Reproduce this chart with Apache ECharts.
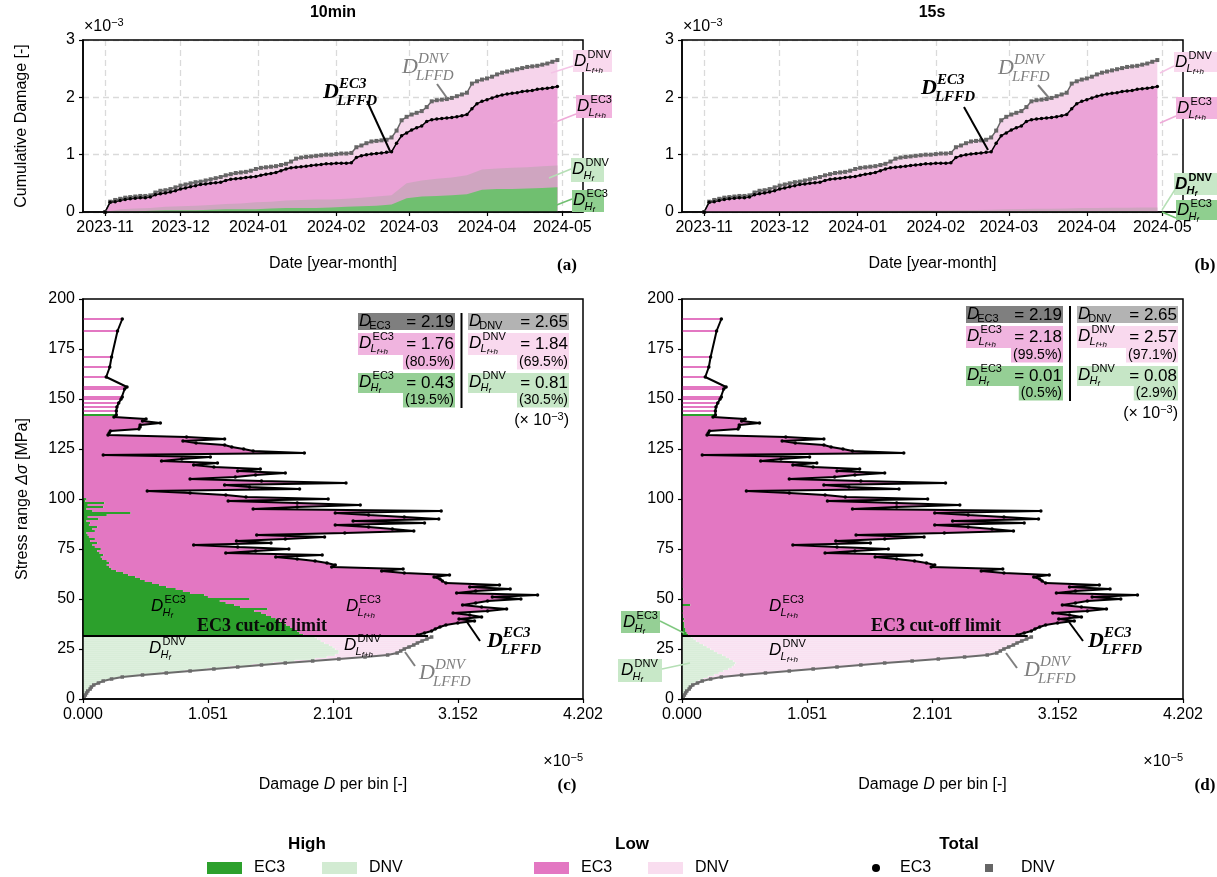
<!DOCTYPE html>
<html>
<head>
<meta charset="utf-8">
<title>Cumulative damage EC3 / DNV</title>
<script src="https://cdn.jsdelivr.net/npm/echarts@6.0.0/dist/echarts.min.js"></script>
<style>
    html, body { margin: 0; background: #fff; }
    #chart-container { width: 1217px; height: 877px; }
</style>
</head>
<body>
<div id="chart-container"></div>
<script>
// ---- top row: cumulative damage (x1e-3), days counted from 2023-11-01 ----
const monthTickDays = [0, 30, 61, 92, 121, 152, 182];
const monthLabels = ['2023-11', '2023-12', '2024-01', '2024-02', '2024-03', '2024-04', '2024-05'];

// totals, one value every 2 days
const cumStep = 2;
const cumEC3 = [
    0.00, 0.17, 0.18, 0.20, 0.22, 0.23, 0.24, 0.25, 0.25, 0.26,
    0.30, 0.32, 0.33, 0.35, 0.37, 0.40, 0.42, 0.44, 0.46, 0.48,
    0.49, 0.50, 0.51, 0.52, 0.55, 0.57, 0.58, 0.59, 0.60, 0.61,
    0.62, 0.64, 0.66, 0.67, 0.69, 0.72, 0.75, 0.77, 0.78, 0.79,
    0.80, 0.81, 0.82, 0.83, 0.84, 0.84, 0.85, 0.85, 0.85, 0.86,
    0.95, 0.98, 1.00, 1.01, 1.02, 1.03, 1.04, 1.05, 1.20, 1.33,
    1.38, 1.43, 1.47, 1.50, 1.58, 1.61, 1.62, 1.63, 1.64, 1.65,
    1.66, 1.68, 1.70, 1.80, 1.89, 1.93, 1.96, 1.99, 2.02, 2.04,
    2.06, 2.07, 2.08, 2.10, 2.11, 2.12, 2.14, 2.15, 2.16, 2.17,
    2.19
];
const cumDNV = [
    0.00, 0.18, 0.21, 0.23, 0.25, 0.26, 0.27, 0.28, 0.28, 0.29,
    0.34, 0.37, 0.38, 0.40, 0.43, 0.46, 0.48, 0.50, 0.52, 0.53,
    0.55, 0.57, 0.59, 0.61, 0.64, 0.66, 0.68, 0.69, 0.70, 0.72,
    0.75, 0.77, 0.78, 0.79, 0.80, 0.82, 0.84, 0.88, 0.93, 0.95,
    0.96, 0.97, 0.98, 0.99, 1.00, 1.00, 1.01, 1.02, 1.02, 1.03,
    1.13, 1.16, 1.20, 1.23, 1.24, 1.25, 1.26, 1.30, 1.42, 1.60,
    1.66, 1.70, 1.73, 1.76, 1.83, 1.93, 1.95, 1.96, 1.97, 1.99,
    2.02, 2.05, 2.08, 2.24, 2.28, 2.31, 2.33, 2.36, 2.40, 2.43,
    2.45, 2.47, 2.49, 2.51, 2.53, 2.54, 2.55, 2.57, 2.59, 2.62,
    2.65
];

// high-frequency parts, one value every 6 days
const highStep = 6;
const cumHighEC3_10min = [0, 0.01, 0.01, 0.02, 0.03, 0.03, 0.03, 0.04, 0.05, 0.05, 0.05, 0.06, 0.07, 0.07, 0.07, 0.08,
    0.09, 0.10, 0.11, 0.13, 0.24, 0.27, 0.28, 0.29, 0.31, 0.39, 0.40, 0.40, 0.41, 0.42, 0.43];
const cumHighDNV_10min = [0, 0.05, 0.06, 0.07, 0.09, 0.10, 0.11, 0.12, 0.14, 0.15, 0.17, 0.18, 0.20, 0.21, 0.22, 0.22,
    0.23, 0.25, 0.27, 0.29, 0.50, 0.55, 0.58, 0.60, 0.64, 0.74, 0.76, 0.77, 0.78, 0.80, 0.81];
const cumHighEC3_15s = [0, 0, 0.001, 0.001, 0.001, 0.002, 0.002, 0.002, 0.003, 0.003, 0.003, 0.003, 0.004, 0.004, 0.004, 0.005,
    0.005, 0.005, 0.006, 0.006, 0.007, 0.008, 0.008, 0.008, 0.009, 0.009, 0.009, 0.01, 0.01, 0.01, 0.01];
const cumHighDNV_15s = [0, 0.004, 0.006, 0.008, 0.01, 0.012, 0.014, 0.016, 0.018, 0.02, 0.022, 0.024, 0.026, 0.028, 0.03, 0.031,
    0.032, 0.034, 0.036, 0.038, 0.05, 0.054, 0.056, 0.058, 0.06, 0.068, 0.07, 0.072, 0.075, 0.078, 0.08];

// ---- bottom row: damage per 1 MPa stress bin (x1e-5) ----
const xTickValues = [0, 1.0505, 2.101, 3.1515, 4.202];
const xTickLabels = ['0.000', '1.051', '2.101', '3.152', '4.202'];
const cutoffStress = 31.5;
const cutoffEnd = 2.9;

// DNV bins, stress 1..31 MPa
const dnvFirstBin = 1;
const dnvTotal = [0.01, 0.02, 0.03, 0.04, 0.06, 0.07, 0.09, 0.13, 0.17, 0.24, 0.33, 0.50, 0.70, 0.90, 1.10, 1.30,
    1.50, 1.70, 1.93, 2.15, 2.37, 2.56, 2.64, 2.67, 2.70, 2.74, 2.78, 2.81, 2.85, 2.89, 2.93];
const dnvHigh10min = [0.01, 0.02, 0.03, 0.04, 0.06, 0.07, 0.09, 0.12, 0.16, 0.23, 0.31, 0.47, 0.66, 0.85, 1.04, 1.23,
    1.42, 1.60, 1.78, 1.95, 2.05, 2.12, 2.15, 2.15, 2.12, 2.10, 2.07, 2.03, 2.00, 1.97, 1.95];
const dnvHigh15s = [0.01, 0.02, 0.03, 0.04, 0.05, 0.07, 0.08, 0.11, 0.14, 0.18, 0.22, 0.27, 0.31, 0.35, 0.39, 0.42,
    0.44, 0.45, 0.43, 0.40, 0.37, 0.34, 0.30, 0.27, 0.24, 0.21, 0.18, 0.15, 0.12, 0.10, 0.08];

// EC3 bins, stress 32..140 MPa
const ec3FirstBin = 32;
const ec3Total = [
    2.81, 2.87, 2.93, 2.96, 3.00, 3.05, 3.15, 3.29, 3.16, 3.35,
    3.25, 3.11, 3.40, 3.56, 3.35, 3.19, 3.30, 3.40, 3.68, 3.44,
    3.82, 3.14, 3.30, 3.59, 3.25, 3.50, 3.05, 3.02, 3.00, 2.95,
    3.08, 2.70, 2.51, 2.69, 2.09, 2.12, 2.05, 1.95, 1.80, 1.62,
    2.01, 1.20, 1.45, 1.73, 1.30, 0.93, 1.58, 1.29, 1.70, 2.03,
    1.46, 2.20, 2.78, 2.60, 2.40, 2.12, 2.87, 2.27, 2.99, 2.70,
    2.40, 2.12, 3.01, 1.43, 1.80, 2.33, 1.80, 1.22, 2.06, 1.37,
    1.20, 0.90, 0.54, 1.82, 1.40, 1.19, 2.21, 1.50, 0.90, 1.28,
    1.45, 1.70, 1.30, 1.49, 1.10, 0.93, 1.13, 0.66, 0.83, 1.07,
    0.17, 1.86, 1.43, 1.35, 1.25, 1.19, 0.95, 0.84, 1.19, 0.87,
    0.21, 0.22, 0.23, 0.47, 0.48, 0.48, 0.65, 0.50, 0.53
];
const ec3High10min = [
    1.85, 1.82, 1.80, 1.77, 1.74, 1.71, 1.68, 1.65, 1.62, 1.58,
    1.54, 1.50, 1.44, 1.55, 1.32, 1.27, 1.20, 1.15, 1.40, 1.05,
    1.02, 0.90, 0.84, 0.78, 0.70, 0.64, 0.58, 0.52, 0.48, 0.44,
    0.38, 0.34, 0.28, 0.24, 0.22, 0.20, 0.22, 0.20, 0.16, 0.15,
    0.17, 0.14, 0.12, 0.15, 0.10, 0.08, 0.12, 0.06, 0.10, 0.05,
    0.04, 0.03, 0.10, 0.08, 0.12, 0.05, 0.06, 0.03, 0.13, 0.04,
    0.20, 0.40, 0.08, 0.03, 0.17, 0.04, 0.18, 0.02, 0.03, 0,
    0, 0, 0, 0, 0, 0, 0, 0, 0, 0,
    0, 0, 0, 0, 0, 0, 0, 0, 0, 0,
    0, 0, 0, 0, 0, 0, 0, 0, 0, 0,
    0, 0, 0, 0, 0, 0, 0, 0, 0
];
const ec3High15s = [
    0.05, 0.04, 0.03, 0.03, 0.02, 0.02, 0.02, 0.01, 0.02, 0.01,
    0.01, 0, 0.01, 0, 0, 0.07, 0, 0, 0.01, 0,
    0, 0, 0, 0.01, 0, 0, 0, 0, 0.01, 0,
    0, 0, 0, 0, 0, 0, 0, 0, 0, 0,
    0, 0, 0, 0, 0, 0, 0, 0, 0, 0,
    0, 0, 0, 0, 0, 0, 0, 0, 0, 0,
    0, 0, 0, 0, 0, 0, 0, 0, 0, 0,
    0, 0, 0, 0, 0, 0, 0, 0, 0, 0,
    0, 0, 0, 0, 0, 0, 0, 0, 0, 0,
    0, 0, 0, 0, 0, 0, 0, 0, 0, 0,
    0, 0, 0, 0, 0, 0, 0, 0, 0
];
// sparse bins above 140 MPa (same in both panels)
const sparseStress = [141, 142, 144, 146, 148, 150, 151, 155, 156, 161, 166, 171, 184, 190];
const sparseTotal = [0.26, 0.28, 0.28, 0.285, 0.30, 0.32, 0.33, 0.35, 0.37, 0.195, 0.225, 0.24, 0.29, 0.33];
const sparseHigh = [0, 0.28, 0, 0, 0, 0, 0, 0, 0, 0, 0, 0, 0, 0];

// summary table (x1e-3)
const table10min = ['2.19', '2.65', '1.76', '(80.5%)', '1.84', '(69.5%)', '0.43', '(19.5%)', '0.81', '(30.5%)'];
const table15s = ['2.19', '2.65', '2.18', '(99.5%)', '2.57', '(97.1%)', '0.01', '(0.5%)', '0.08', '(2.9%)'];

// ---- colours ----
const GREEN = '#2ca02c', LGREEN = '#d2ebd2', PINK = '#e377c2', LPINK = '#f9ddef';
const SANS = '"Liberation Sans", Arial, sans-serif';
const SERIF = '"Liberation Serif", "DejaVu Serif", serif';

// ---- helpers ----
const timeData = (vals, step) => vals.map((v, i) => [i * step, v]);

function binData(first, lo, hi) {
    return hi.map((h, i) => [first + i, lo ? lo[i] : 0, h]);
}

function barRender(fill, stroke) {
    return function (params, api) {
        const s = api.value(0), a = api.value(1), b = api.value(2);
        if (!(b > a)) return;
        const p0 = api.coord([a, s + 0.5]);
        const p1 = api.coord([b, s - 0.5]);
        return {
            type: 'rect',
            shape: { x: p0[0], y: p0[1], width: p1[0] - p0[0], height: p1[1] - p0[1] },
            style: { fill: fill, stroke: stroke || null, lineWidth: stroke ? 0.5 : 0 }
        };
    };
}

function barSeries(idx, data, fill, stroke) {
    return {
        type: 'custom', xAxisIndex: idx, yAxisIndex: idx, silent: true,
        renderItem: barRender(fill, stroke), encode: { x: [1, 2], y: 0 }, data: data, z: 2
    };
}

function txt(x, y, text, font, fill, align, valign) {
    return {
        type: 'text', x: x, y: y, silent: true, z: 100,
        style: { text: text, font: font, fill: fill || '#000', align: align || 'left', verticalAlign: valign || 'middle' }
    };
}

function richTxt(x, y, text, rich, align, valign, extra) {
    return {
        type: 'text', x: x, y: y, silent: true, z: 100,
        style: Object.assign({ text: text, rich: rich, align: align || 'left', verticalAlign: valign || 'middle' }, extra || {})
    };
}

function rect(x, y, w, h, fill) {
    return { type: 'rect', silent: true, z: 99, shape: { x: x, y: y, width: w, height: h }, style: { fill: fill } };
}

function seg(x1, y1, x2, y2, color, w) {
    return { type: 'line', silent: true, z: 100, shape: { x1: x1, y1: y1, x2: x2, y2: y2 }, style: { stroke: color, lineWidth: w || 1.5 } };
}

// D with superscript and (optionally two-level) subscript
function dMath(x, y, sup, sub, subTail, o) {
    o = o || {};
    const fs = o.fs || 17, fam = o.fam || SANS, col = o.color || '#000';
    const wt = o.bold ? 'bold' : 'normal';
    const small = Math.round(fs * (o.ratio || 0.66));
    const els = [txt(x, y, 'D', 'italic ' + wt + ' ' + fs + 'px ' + fam, col)];
    const dx = fs * (o.dx || 0.74);
    if (sup) {
        els.push(txt(x + dx + 1, y - fs * 0.36, sup, (o.supItalic ? 'italic ' : '') + wt + ' ' + small + 'px ' + fam, col));
    }
    if (sub) {
        const rich = {
            a: { fontSize: small, fontStyle: o.subUpright ? 'normal' : 'italic', fontWeight: wt, fontFamily: fam, fill: col, color: col },
            b: { fontSize: Math.round(fs * 0.46), fontStyle: 'italic', fontWeight: wt, fontFamily: fam, fill: col, color: col, verticalAlign: 'bottom', padding: [6, 0, 0, 0] }
        };
        els.push(richTxt(x + dx - 1, y + fs * (o.subDy || 0.42), '{a|' + sub + '}' + (subTail ? '{b|' + subTail + '}' : ''), rich));
    }
    return els;
}

function powerText(x, y, base, exp, align) {
    return richTxt(x, y, '{a|' + base + '}{b|' + exp + '}', {
        a: { fontSize: 16, fontFamily: SANS, fill: '#000', color: '#000' },
        b: { fontSize: 11, fontFamily: SANS, fill: '#000', color: '#000', verticalAlign: 'top', padding: [0, 0, 8, 0] }
    }, align || 'left');
}

function summaryTable(L0, L1, R0, R1, top, v) {
    const g = [];
    const val = (x, y, t) => txt(x, y, t, '17px ' + SANS, '#000', 'right');
    const pct = (x, y, t, bg) => ({
        type: 'text', x: x, y: y, silent: true, z: 100,
        style: { text: t, font: '14px ' + SANS, fill: '#000', align: 'right', verticalAlign: 'middle', backgroundColor: bg, padding: [1, 1, 0, 2] }
    });
    // row 1: totals
    g.push(rect(L0, top, L1 - L0, 17, '#7f7f7f'), rect(R0, top, R1 - R0, 17, '#b3b3b3'));
    g.push(...dMath(L0 + 1, top + 8, null, 'EC3', null, { subUpright: true, dx: 0.66, subDy: 0.3 }), val(L1 - 1, top + 9, '= ' + v[0]));
    g.push(...dMath(R0 + 1, top + 8, null, 'DNV', null, { subUpright: true, dx: 0.66, subDy: 0.3 }), val(R1 - 1, top + 9, '= ' + v[1]));
    // row 2: low
    g.push(rect(L0, top + 20, L1 - L0, 22, '#f0b4df'), rect(R0, top + 20, R1 - R0, 22, '#f9d9ee'));
    g.push(...dMath(L0 + 1, top + 30, 'EC3', 'L', 'f+h', { subDy: 0.36 }), val(L1 - 1, top + 31, '= ' + v[2]));
    g.push(...dMath(R0 + 1, top + 30, 'DNV', 'L', 'f+h', { subDy: 0.36 }), val(R1 - 1, top + 31, '= ' + v[4]));
    g.push(pct(L1, top + 49, v[3], '#f0b4df'), pct(R1, top + 49, v[5], '#f9d9ee'));
    // row 3: high
    g.push(rect(L0, top + 60, L1 - L0, 20, '#95cf95'), rect(R0, top + 60, R1 - R0, 20, '#c6e6c6'));
    g.push(...dMath(L0 + 1, top + 69, 'EC3', 'H', 'f', { subDy: 0.36 }), val(L1 - 1, top + 70, '= ' + v[6]));
    g.push(...dMath(R0 + 1, top + 69, 'DNV', 'H', 'f', { subDy: 0.36 }), val(R1 - 1, top + 70, '= ' + v[8]));
    g.push(pct(L1, top + 87, v[7], '#95cf95'), pct(R1, top + 87, v[9], '#c6e6c6'));
    g.push(seg((L1 + R0) / 2, top, (L1 + R0) / 2, top + 95, '#000', 2));
    g.push(richTxt(R1, top + 108, '{a|(× 10}{b|−3}{a|)}', {
        a: { fontSize: 16, fontFamily: SANS, fill: '#000', color: '#000' },
        b: { fontSize: 11, fontFamily: SANS, fill: '#000', color: '#000', verticalAlign: 'top', padding: [0, 0, 8, 0] }
    }, 'right'));
    return g;
}

// ---- chart ----
const chart = echarts.init(document.getElementById('chart-container'), null, { renderer: 'canvas' });

const gridBoxes = [
    { left: 83, top: 40, width: 500, height: 172 },
    { left: 682, top: 40, width: 501, height: 172 },
    { left: 83, top: 299, width: 500, height: 400 },
    { left: 682, top: 299, width: 501, height: 400 }
];

const axisBase = {
    axisLine: { show: true, onZero: false, lineStyle: { color: '#000', width: 1.5 } },
    axisTick: { show: true, length: 4, lineStyle: { color: '#000', width: 1.2 } },
    axisLabel: { color: '#000', fontSize: 16, fontFamily: SANS, margin: 8 },
    splitLine: { show: false },
    z: 5
};
const nameStyle = { color: '#000', fontSize: 16, fontFamily: SANS };
const gridLine = { show: true, lineStyle: { color: '#dadada', width: 1.3, type: [6, 4] } };

function timeAxis(grid, withName) {
    return Object.assign({}, axisBase, {
        gridIndex: grid, type: 'value', min: -8.8, max: 190.2,
        axisTick: Object.assign({}, axisBase.axisTick, { customValues: monthTickDays }),
        axisLabel: Object.assign({}, axisBase.axisLabel, {
            customValues: monthTickDays,
            formatter: v => monthLabels[monthTickDays.indexOf(Math.round(v))] || ''
        }),
        name: withName ? 'Date [year-month]' : '', nameLocation: 'middle', nameGap: 44, nameTextStyle: nameStyle
    });
}
function timeGridAxis(grid) {
    return {
        gridIndex: grid, type: 'value', min: -8.8, max: 190.2, z: 0,
        axisLine: { show: false }, axisLabel: { show: false },
        axisTick: { show: false, customValues: monthTickDays },
        splitLine: gridLine
    };
}
function damageAxis(grid) {
    return Object.assign({}, axisBase, {
        gridIndex: grid, type: 'value', min: 0, max: 3, interval: 1
    });
}
function binXAxis(grid) {
    return Object.assign({}, axisBase, {
        gridIndex: grid, type: 'value', min: 0, max: 4.202,
        axisTick: Object.assign({}, axisBase.axisTick, { customValues: xTickValues }),
        axisLabel: Object.assign({}, axisBase.axisLabel, {
            customValues: xTickValues,
            formatter: v => xTickLabels[Math.round(v / xTickValues[1])]
        }),
        name: '{n|Damage }{i|D}{n| per bin [-]}', nameLocation: 'middle', nameGap: 78,
        nameTextStyle: Object.assign({}, nameStyle, {
            rich: { n: nameStyle, i: Object.assign({}, nameStyle, { fontStyle: 'italic' }) }
        })
    });
}
function stressAxis(grid, withName) {
    return Object.assign({}, axisBase, {
        gridIndex: grid, type: 'value', min: 0, max: 200, interval: 25,
        name: withName ? '{n|Stress range }{i|Δσ}{n| [MPa]}' : '', nameLocation: 'middle', nameGap: 52,
        nameTextStyle: Object.assign({}, nameStyle, {
            rich: { n: nameStyle, i: Object.assign({}, nameStyle, { fontStyle: 'italic' }) }
        })
    });
}

function cumSeries(idx, highEC3, highDNV, dnvHighColor) {
    const area = (data, color) => ({
        type: 'line', xAxisIndex: idx, yAxisIndex: idx, data: data, symbol: 'none', silent: true,
        lineStyle: { width: 0 }, areaStyle: { color: color, opacity: 1, origin: 'start' }, z: 2
    });
    return [
        area(timeData(cumDNV, cumStep), '#f6d4eb'),
        area(timeData(cumEC3, cumStep), '#eba3d7'),
        area(timeData(highDNV, highStep), dnvHighColor),
        area(timeData(highEC3, highStep), '#70bf70'),
        {
            type: 'line', xAxisIndex: idx, yAxisIndex: idx, data: timeData(cumDNV, cumStep), silent: true,
            symbol: 'rect', symbolSize: 4, itemStyle: { color: '#666' }, lineStyle: { color: '#666', width: 1.5 }, z: 3
        },
        {
            type: 'line', xAxisIndex: idx, yAxisIndex: idx, data: timeData(cumEC3, cumStep), silent: true,
            symbol: 'circle', symbolSize: 3.5, itemStyle: { color: '#000' }, lineStyle: { color: '#000', width: 1.5 }, z: 3
        }
    ];
}

function binSeries(idx, dnvHigh, ec3High) {
    const ec3Line = ec3Total.map((v, i) => [v, ec3FirstBin + i])
        .concat(sparseStress.map((s, i) => [sparseTotal[i], s]));
    return [
        barSeries(idx, binData(dnvFirstBin, null, dnvHigh), LGREEN, 'rgba(255,255,255,0.55)'),
        barSeries(idx, binData(dnvFirstBin, dnvHigh, dnvTotal), LPINK, 'rgba(255,255,255,0.55)'),
        barSeries(idx, binData(ec3FirstBin, null, ec3High), GREEN),
        barSeries(idx, binData(ec3FirstBin, ec3High, ec3Total), PINK),
        barSeries(idx, sparseStress.map((s, i) => [s, 0, sparseHigh[i]]), GREEN),
        barSeries(idx, sparseStress.map((s, i) => [s, sparseHigh[i], sparseTotal[i]]), PINK),
        {
            type: 'line', xAxisIndex: idx, yAxisIndex: idx, silent: true, symbol: 'none',
            data: [[0, cutoffStress], [cutoffEnd, cutoffStress]], lineStyle: { color: '#000', width: 2 }, z: 4
        },
        {
            type: 'line', xAxisIndex: idx, yAxisIndex: idx, silent: true,
            data: dnvTotal.map((v, i) => [v, dnvFirstBin + i]),
            symbol: 'rect', symbolSize: 3.5, itemStyle: { color: '#6b6b6b' }, lineStyle: { color: '#6b6b6b', width: 2 }, z: 4
        },
        {
            type: 'line', xAxisIndex: idx, yAxisIndex: idx, silent: true, data: ec3Line,
            symbol: 'circle', symbolSize: 3.5, itemStyle: { color: '#000' }, lineStyle: { color: '#000', width: 2 }, z: 4
        }
    ];
}

// ---- annotations ----
const serifLbl = (x, y, sup, color, bold) =>
    dMath(x, y, sup, 'LFFD', null, { fs: 22, fam: SERIF, color: color, bold: bold, supItalic: true, dx: 0.68, ratio: 0.68 });

const graphics = [].concat(
    // titles, offsets, panel letters
    txt(333, 13, '10min', 'bold 16px ' + SANS, '#000', 'center'),
    txt(932, 13, '15s', 'bold 16px ' + SANS, '#000', 'center'),
    powerText(84, 27, '×10', '−3'),
    powerText(683, 27, '×10', '−3'),
    powerText(583, 762, '×10', '−5', 'right'),
    powerText(1183, 762, '×10', '−5', 'right'),
    txt(567, 266, '(a)', 'bold 17px ' + SERIF, '#000', 'center'),
    txt(1205, 266, '(b)', 'bold 17px ' + SERIF, '#000', 'center'),
    txt(567, 786, '(c)', 'bold 17px ' + SERIF, '#000', 'center'),
    txt(1205, 786, '(d)', 'bold 17px ' + SERIF, '#000', 'center'),

    // (a) line labels
    serifLbl(323, 92, 'EC3', '#000', true), seg(367, 101, 390, 151, '#000', 2),
    serifLbl(402, 67, 'DNV', '#7f7f7f', false), seg(437, 84, 447, 98, '#7f7f7f', 2),
    // (a) right labels
    rect(573, 50, 39, 22, '#f9d9ee'), dMath(574, 61, 'DNV', 'L', 'f+h'), seg(551, 73, 573, 66, '#f4c4e6'),
    rect(576, 95, 36, 23, '#f2b3de'), dMath(577, 106, 'EC3', 'L', 'f+h'), seg(553, 123, 576, 114, '#eeaad8'),
    rect(571, 158, 33, 24, '#c8e8c8'), dMath(572, 169, 'DNV', 'H', 'f'), seg(549, 178, 571, 169, '#b5dfb5'),
    rect(572, 190, 32, 22, '#8fcf8f'), dMath(573, 200, 'EC3', 'H', 'f'), seg(549, 208, 572, 199, '#70bf70'),

    // (b) line labels
    serifLbl(921, 88, 'EC3', '#000', true), seg(964, 107, 988, 150, '#000', 2),
    serifLbl(998, 68, 'DNV', '#7f7f7f', false), seg(1038, 85, 1049, 98, '#7f7f7f', 2),
    // (b) right labels
    seg(1160, 73, 1174, 66, '#f4c4e6'), rect(1174, 52, 43, 20, '#f9d9ee'), dMath(1175, 62, 'DNV', 'L', 'f+h'),
    seg(1160, 123, 1176, 116, '#eeaad8'), rect(1176, 97, 41, 22, '#f2b3de'), dMath(1177, 108, 'EC3', 'L', 'f+h'),
    seg(1162, 210, 1176, 188, '#b5dfb5'), rect(1174, 173, 43, 22, '#c8e8c8'), dMath(1175, 184, 'DNV', 'H', 'f', { bold: true }),
    seg(1162, 212, 1176, 218, '#70bf70'), rect(1176, 200, 41, 20, '#8fcf8f'), dMath(1177, 210, 'EC3', 'H', 'f'),

    // (c) in-plot labels
    dMath(151, 606, 'EC3', 'H', 'f'),
    dMath(346, 606, 'EC3', 'L', 'f+h'),
    dMath(149, 648, 'DNV', 'H', 'f'),
    dMath(344, 645, 'DNV', 'L', 'f+h'),
    txt(262, 626, 'EC3 cut-off limit', 'bold 18px ' + SERIF, '#0a0a0a', 'center'),
    serifLbl(487, 641, 'EC3', '#000', true), seg(467, 622, 480, 641, '#000', 2),
    serifLbl(419, 673, 'DNV', '#7f7f7f', false), seg(405, 652, 415, 666, '#7f7f7f', 2),
    summaryTable(358, 455, 468, 569, 313, table10min),

    // (d) in-plot labels
    dMath(769, 606, 'EC3', 'L', 'f+h'),
    dMath(769, 650, 'DNV', 'L', 'f+h'),
    txt(936, 626, 'EC3 cut-off limit', 'bold 18px ' + SERIF, '#0a0a0a', 'center'),
    serifLbl(1088, 641, 'EC3', '#000', true), seg(1069, 622, 1083, 641, '#000', 2),
    serifLbl(1024, 670, 'DNV', '#7f7f7f', false), seg(1006, 653, 1017, 668, '#7f7f7f', 2),
    seg(660, 621, 684, 633, '#80c880'), rect(621, 611, 39, 22, '#95cf95'), dMath(623, 622, 'EC3', 'H', 'f'),
    seg(662, 669, 690, 663, '#b5dfb5'), rect(618, 659, 44, 23, '#c8e8c8'), dMath(621, 670, 'DNV', 'H', 'f'),
    summaryTable(966, 1063, 1077, 1178, 306, table15s),

    // legend
    txt(307, 844, 'High', 'bold 17px ' + SANS, '#000', 'center'),
    rect(207, 862, 35, 12, GREEN), txt(254, 868, 'EC3', '16px ' + SANS),
    rect(322, 862, 35, 12, LGREEN), txt(369, 868, 'DNV', '16px ' + SANS),
    txt(632, 844, 'Low', 'bold 17px ' + SANS, '#000', 'center'),
    rect(534, 862, 35, 12, PINK), txt(581, 868, 'EC3', '16px ' + SANS),
    rect(648, 862, 35, 12, LPINK), txt(695, 868, 'DNV', '16px ' + SANS),
    txt(959, 844, 'Total', 'bold 17px ' + SANS, '#000', 'center'),
    { type: 'circle', silent: true, shape: { cx: 876, cy: 868, r: 4 }, style: { fill: '#000' } },
    txt(900, 868, 'EC3', '16px ' + SANS),
    rect(985, 864, 8, 8, '#666'), txt(1021, 868, 'DNV', '16px ' + SANS)
);

const option = {
    animation: false,
    backgroundColor: '#fff',
    textStyle: { fontFamily: SANS },
    grid: gridBoxes.map(g => Object.assign({ show: true, z: 1, borderColor: '#000', borderWidth: 1.5, backgroundColor: 'transparent' }, g)),
    xAxis: [timeAxis(0, true), timeAxis(1, true), binXAxis(2), binXAxis(3), timeGridAxis(0), timeGridAxis(1)],
    yAxis: [
        Object.assign(damageAxis(0), {
            name: 'Cumulative Damage [-]', nameLocation: 'middle', nameGap: 53, nameTextStyle: nameStyle
        }),
        damageAxis(1),
        stressAxis(2, true),
        stressAxis(3, false),
        { gridIndex: 0, type: 'value', min: 0, max: 3, interval: 1, z: 0, axisLine: { show: false }, axisTick: { show: false }, axisLabel: { show: false }, splitLine: gridLine },
        { gridIndex: 1, type: 'value', min: 0, max: 3, interval: 1, z: 0, axisLine: { show: false }, axisTick: { show: false }, axisLabel: { show: false }, splitLine: gridLine }
    ],
    series: [].concat(
        cumSeries(0, cumHighEC3_10min, cumHighDNV_10min, '#cfa5c0'),
        cumSeries(1, cumHighEC3_15s, cumHighDNV_15s, '#cfa5c0'),
        binSeries(2, dnvHigh10min, ec3High10min),
        binSeries(3, dnvHigh15s, ec3High15s)
    ),
    graphic: { elements: graphics }
};

chart.setOption(option);
window.addEventListener('resize', () => chart.resize());
</script>
</body>
</html>
